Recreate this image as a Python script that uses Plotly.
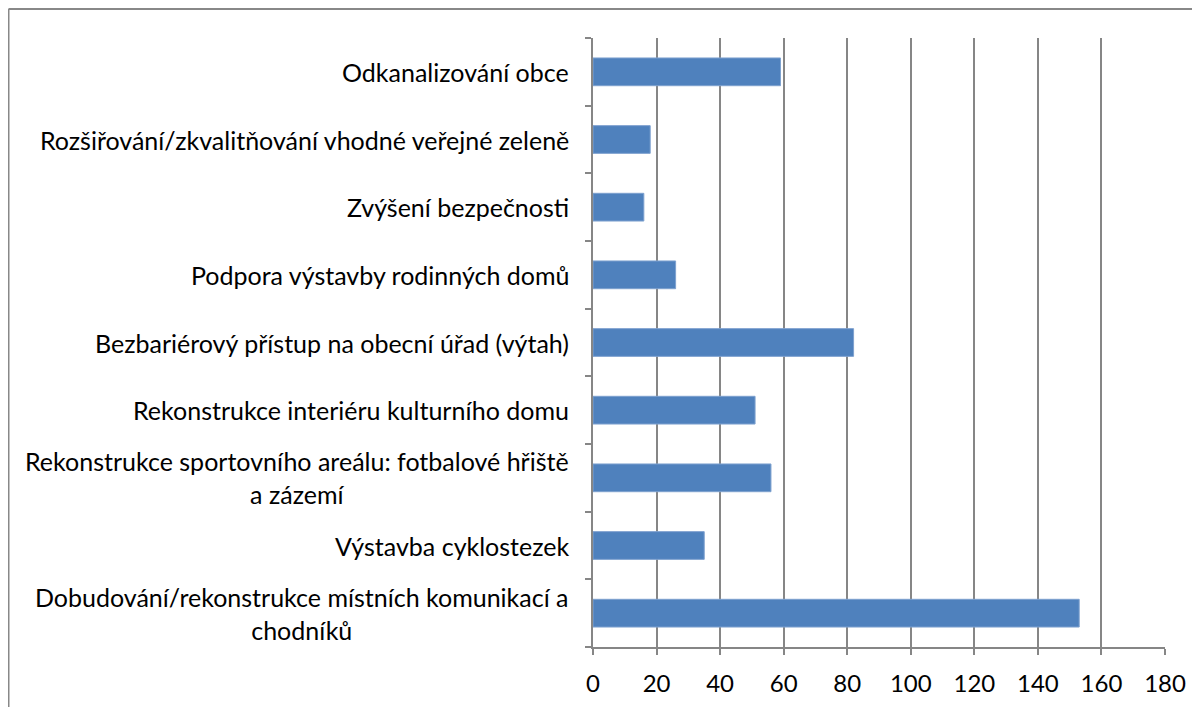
import plotly.graph_objects as go

categories = [
    "Odkanalizování obce",
    "Rozšiřování/zkvalitňování vhodné veřejné zeleně",
    "Zvýšení bezpečnosti",
    "Podpora výstavby rodinných domů",
    "Bezbariérový přístup na obecní úřad (výtah)",
    "Rekonstrukce interiéru kulturního domu",
    "Rekonstrukce sportovního areálu: fotbalové hřiště<br>a zázemí",
    "Výstavba cyklostezek",
    "Dobudování/rekonstrukce místních komunikací a<br>chodníků",
]
values = [59, 18, 16, 26, 82, 51, 56, 35, 153]
x_ticks = [0, 20, 40, 60, 80, 100, 120, 140, 160, 180]

FONT = "Lato"
GRID = "#868686"

# plot area in figure coordinates (page is offset by 8px body margin)
L, R, T, B = 585, 1157, 30, 639
W, H = 1200, 707

fig = go.Figure()
fig.add_trace(go.Bar(
    y=categories, x=values, orientation="h",
    marker=dict(color="#4F81BD", line=dict(color="#7EA1CF", width=1)),
    hoverinfo="x+y",
))

annotations = []
for c in categories:
    annotations.append(dict(
        x=0, xref="paper", y=c, yref="y", text=c, showarrow=False,
        xanchor="right", yanchor="middle", align="center", xshift=-22,
        font=dict(family=FONT, size=25, color="#000000"),
    ))

px = lambda x: (x - L) / (R - L)
py = lambda y: (B - y) / (B - T)

fig.update_layout(
    width=W, height=H,
    margin=dict(l=L, r=W - R, t=T, b=H - B, autoexpand=False),
    paper_bgcolor="white", plot_bgcolor="white",
    showlegend=False, bargap=0.59,
    annotations=annotations,
    shapes=[
        dict(type="line", xref="paper", yref="paper", x0=px(0.5), x1=px(0.5),
             y0=-0.2, y1=py(1), line=dict(color="#888888", width=2)),
        dict(type="line", xref="paper", yref="paper", x0=px(0.5), x1=1.2,
             y0=py(1), y1=py(1), line=dict(color="#888888", width=2)),
    ],
)
fig.update_xaxes(
    range=[0, 180], tickvals=x_ticks, showgrid=True, gridcolor=GRID, gridwidth=1.5,
    showline=True, linecolor=GRID, linewidth=1.5, ticks="outside", ticklen=6,
    tickcolor=GRID, tickwidth=1.5, zeroline=False, ticklabelstandoff=8,
    tickfont=dict(family=FONT, size=24, color="#000000"),
)
fig.update_yaxes(
    categoryorder="array", categoryarray=list(reversed(categories)),
    showticklabels=False, showline=True, linecolor=GRID, linewidth=1.5,
    ticks="outside", ticklen=6, tickcolor=GRID, tickwidth=1.5, tickson="boundaries",
    showgrid=False,
)
fig.write_html("out.html")
